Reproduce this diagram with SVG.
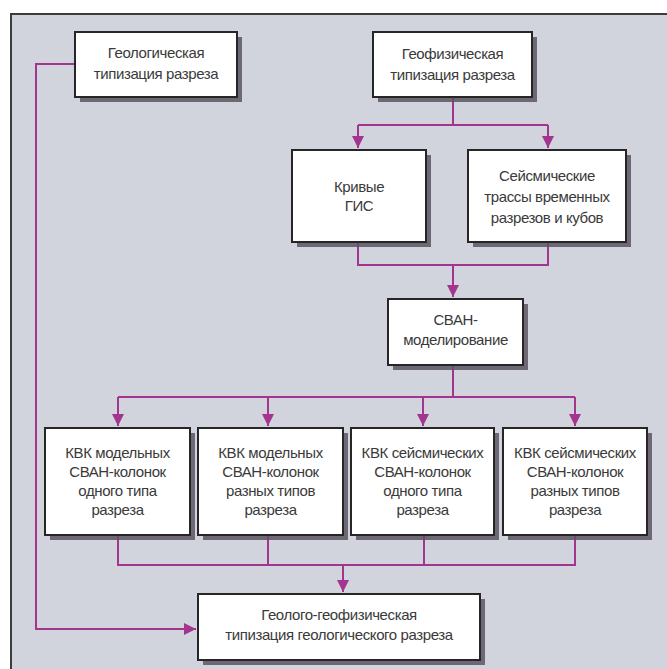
<svg xmlns="http://www.w3.org/2000/svg" width="667" height="669" viewBox="0 0 667 669">
<defs>
<style>
.bg{fill:#d1d4dc}
.frame{stroke:#3c3c3c;stroke-width:2;fill:none}
.sh{fill:#5d5462;opacity:0.85}
.box{fill:#ffffff;stroke:#262626;stroke-width:2}
.t{font-family:"Liberation Sans",Arial,sans-serif;font-size:15px;fill:#3a3a3a;text-anchor:middle;letter-spacing:-0.4px}
.c{stroke:#a3358f;stroke-width:2;fill:none}
</style>
<marker id="ah" viewBox="0 0 10 10" refX="10" refY="5" markerWidth="6" markerHeight="6" orient="auto" markerUnits="strokeWidth">
<path d="M0,0 L10,5 L0,10 z" fill="#a3358f"/>
</marker>
</defs>
<rect class="bg" x="11" y="14" width="656" height="655"/>
<path class="frame" d="M11,669 V14 H667"/>

<g id="connectors">
<path class="c" d="M75,64 H36 V629 H196" marker-end="url(#ah)"/>
<path class="c" d="M453,98 V125 M358,125 H548"/>
<path class="c" d="M358,125 V148" marker-end="url(#ah)"/>
<path class="c" d="M548,125 V148" marker-end="url(#ah)"/>
<path class="c" d="M358,242 V265 H548 V242"/>
<path class="c" d="M453,265 V297" marker-end="url(#ah)"/>
<path class="c" d="M453,365 V397 M118,397 H575"/>
<path class="c" d="M118,397 V426" marker-end="url(#ah)"/>
<path class="c" d="M268,397 V426" marker-end="url(#ah)"/>
<path class="c" d="M423,397 V426" marker-end="url(#ah)"/>
<path class="c" d="M575,397 V426" marker-end="url(#ah)"/>
<path class="c" d="M118,535 V565 H575 V535 M268,535 V565 M424,535 V565"/>
<path class="c" d="M343,565 V592" marker-end="url(#ah)"/>
</g>

<g id="n_geol">
<rect class="sh" x="80" y="37" width="162" height="65"/>
<rect class="box" x="75" y="32" width="162" height="65"/>
<text class="t" x="156" y="58">Геологическая</text>
<text class="t" x="156" y="79">типизация разреза</text>
</g>

<g id="n_geof">
<rect class="sh" x="378" y="37" width="159" height="65"/>
<rect class="box" x="373" y="32" width="159" height="65"/>
<text class="t" x="452.5" y="59">Геофизическая</text>
<text class="t" x="452.5" y="80">типизация разреза</text>
</g>

<g id="n_gis">
<rect class="sh" x="297" y="155" width="134" height="92"/>
<rect class="box" x="292" y="150" width="134" height="92"/>
<text class="t" x="359" y="192">Кривые</text>
<text class="t" x="359" y="211">ГИС</text>
</g>

<g id="n_seism">
<rect class="sh" x="473" y="155" width="158" height="92"/>
<rect class="box" x="468" y="150" width="158" height="92"/>
<text class="t" x="547" y="181">Сейсмические</text>
<text class="t" x="547" y="202">трассы временных</text>
<text class="t" x="547" y="223">разрезов и кубов</text>
</g>

<g id="n_svan">
<rect class="sh" x="393" y="304" width="135" height="66"/>
<rect class="box" x="388" y="299" width="135" height="66"/>
<text class="t" x="455.5" y="325">СВАН-</text>
<text class="t" x="455.5" y="345">моделирование</text>
</g>

<g id="n_kvk1">
<rect class="sh" x="50" y="433" width="145" height="107"/>
<rect class="box" x="45" y="428" width="145" height="107"/>
<text class="t" x="117.5" y="458">КВК модельных</text>
<text class="t" x="117.5" y="477">СВАН-колонок</text>
<text class="t" x="117.5" y="496">одного типа</text>
<text class="t" x="117.5" y="515">разреза</text>
</g>

<g id="n_kvk2">
<rect class="sh" x="203" y="433" width="145" height="107"/>
<rect class="box" x="198" y="428" width="145" height="107"/>
<text class="t" x="270.5" y="458">КВК модельных</text>
<text class="t" x="270.5" y="477">СВАН-колонок</text>
<text class="t" x="270.5" y="496">разных типов</text>
<text class="t" x="270.5" y="515">разреза</text>
</g>

<g id="n_kvk3">
<rect class="sh" x="356" y="433" width="143" height="107"/>
<rect class="box" x="351" y="428" width="143" height="107"/>
<text class="t" x="422.5" y="458">КВК сейсмических</text>
<text class="t" x="422.5" y="477">СВАН-колонок</text>
<text class="t" x="422.5" y="496">одного типа</text>
<text class="t" x="422.5" y="515">разреза</text>
</g>

<g id="n_kvk4">
<rect class="sh" x="508" y="433" width="144" height="107"/>
<rect class="box" x="503" y="428" width="144" height="107"/>
<text class="t" x="575" y="458">КВК сейсмических</text>
<text class="t" x="575" y="477">СВАН-колонок</text>
<text class="t" x="575" y="496">разных типов</text>
<text class="t" x="575" y="515">разреза</text>
</g>

<g id="n_final">
<rect class="sh" x="203" y="599" width="282" height="66"/>
<rect class="box" x="198" y="594" width="282" height="66"/>
<text class="t" x="339" y="620">Геолого-геофизическая</text>
<text class="t" x="339" y="640">типизация геологического разреза</text>
</g>
</svg>
